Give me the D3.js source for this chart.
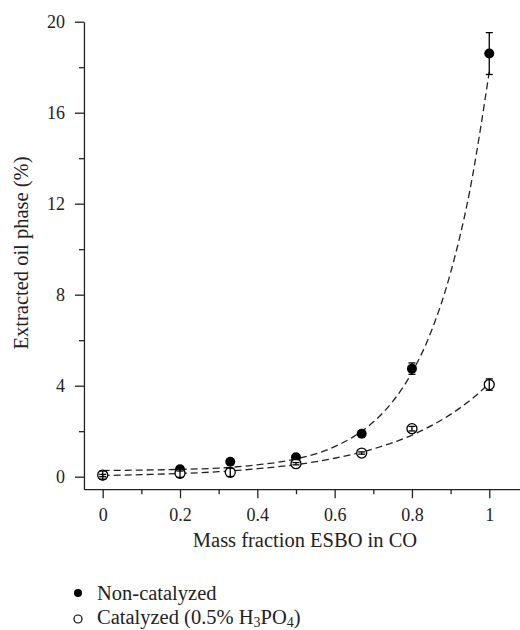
<!DOCTYPE html>
<html>
<head>
<meta charset="utf-8">
<script src="https://cdn.jsdelivr.net/npm/d3@7"></script>
<style>
  html, body { margin: 0; padding: 0; background: #fff; }
  svg { display: block; }
  text { font-family: "Liberation Serif", "DejaVu Serif", serif; fill: #222; }
</style>
</head>
<body>
<svg id="chart" width="520" height="630"></svg>
<script>
// ---- data ----
const massFraction = [0, 0.2, 0.33, 0.5, 0.67, 0.8, 1.0];
const nonCatalyzed = [0.05, 0.33, 0.66, 0.85, 1.89, 4.75, 18.6];
const nonCatalyzedErr = [0.05, 0.08, 0.1, 0.1, 0.1, 0.25, 0.92];
const catalyzed = [0.07, 0.15, 0.19, 0.57, 1.04, 2.11, 4.05];
const catalyzedErr = [0.18, 0.18, 0.18, 0.05, 0.05, 0.1, 0.25];

// dashed fitted curves
const fitNonCatX = [0, 0.1, 0.2, 0.3, 0.4, 0.5, 0.6, 0.65, 0.7, 0.75, 0.8, 0.85, 0.9, 0.95, 1.0];
const fitNonCatY = [0.27, 0.29, 0.32, 0.38, 0.52, 0.78, 1.32, 1.77, 2.40, 3.30, 4.58, 6.39, 8.97, 12.6, 17.8];
const fitCatX = [0, 0.1, 0.2, 0.3, 0.4, 0.5, 0.6, 0.7, 0.8, 0.9, 0.95, 1.0];
const fitCatY = [0.05, 0.09, 0.14, 0.22, 0.35, 0.53, 0.81, 1.22, 1.83, 2.74, 3.35, 4.10];

const xTicks = [0, 0.2, 0.4, 0.6, 0.8, 1];
const xTickLabels = ["0", "0.2", "0.4", "0.6", "0.8", "1"];
const xMinorTicks = [0.1, 0.3, 0.5, 0.7, 0.9];
const yTicks = [0, 4, 8, 12, 16, 20];
const yMinorTicks = [2, 6, 10, 14, 18];

const xTitle = "Mass fraction ESBO in CO";
const yTitle = "Extracted oil phase (%)";
const legendNames = ["Non-catalyzed", "Catalyzed"];

// ---- drawing ----
const svg = d3.select("#chart");
const x = d3.scaleLinear().domain([-0.0485, 1.0803]).range([83.95, 520.3]);
const y = d3.scaleLinear().domain([-0.55, 20]).range([489.2, 21.7]);
const ink = "#222";

// axes
const gx = svg.append("g").attr("transform", `translate(0,${y.range()[0]})`)
  .call(d3.axisBottom(x).tickValues(xTicks).tickFormat((d, i) => xTickLabels[i])
    .tickSizeInner(9).tickSizeOuter(0).tickPadding(10));
const gxm = svg.append("g").attr("transform", `translate(0,${y.range()[0]})`)
  .call(d3.axisBottom(x).tickValues(xMinorTicks).tickFormat("").tickSizeInner(5).tickSizeOuter(0));
gxm.select(".domain").remove();

const gy = svg.append("g").attr("transform", `translate(${x.range()[0]},0)`)
  .call(d3.axisLeft(y).tickValues(yTicks).tickFormat(d3.format("d"))
    .tickSizeInner(9).tickSizeOuter(0).tickPadding(10));
const gym = svg.append("g").attr("transform", `translate(${x.range()[0]},0)`)
  .call(d3.axisLeft(y).tickValues(yMinorTicks).tickFormat("").tickSizeInner(5).tickSizeOuter(0));
gym.select(".domain").remove();

svg.selectAll(".domain, .tick line").attr("stroke", ink).attr("stroke-width", 1.3);
svg.selectAll(".tick text").attr("font-size", 18).attr("fill", ink)
  .style("font-family", '"Liberation Serif", serif');

// titles
svg.append("text").attr("x", 305).attr("y", 547).attr("text-anchor", "middle")
  .attr("font-size", 20.5).text(xTitle);
svg.append("text").attr("transform", "translate(28,253) rotate(-90)")
  .attr("text-anchor", "middle").attr("font-size", 20.5).text(yTitle);

// fitted dashed curves
const line = d3.line().x(d => x(d[0])).y(d => y(d[1])).curve(d3.curveMonotoneX);
[[fitNonCatX, fitNonCatY], [fitCatX, fitCatY]].forEach(([fx, fy]) => {
  svg.append("path").datum(fx.map((v, i) => [v, fy[i]]))
    .attr("d", line).attr("fill", "none").attr("stroke", ink)
    .attr("stroke-width", 1.3).attr("stroke-dasharray", "7,4");
});

// points
const nonData = massFraction.map((m, i) => ({m, v: nonCatalyzed[i], e: nonCatalyzedErr[i]}));
const catData = massFraction.map((m, i) => ({m, v: catalyzed[i], e: catalyzedErr[i]}));

svg.append("g").selectAll("circle").data(nonData).join("circle")
  .attr("cx", d => x(d.m)).attr("cy", d => y(d.v)).attr("r", 5).attr("fill", "#000");
svg.append("g").selectAll("circle").data(catData).join("circle")
  .attr("cx", d => x(d.m)).attr("cy", d => y(d.v)).attr("r", 5)
  .attr("fill", "#fff").attr("stroke", "#000").attr("stroke-width", 1.3);

// error bars
function errorBars(data) {
  const g = svg.append("g").attr("stroke", "#000").attr("stroke-width", 1.3);
  g.selectAll("line.v").data(data).join("line").attr("class", "v")
    .attr("x1", d => x(d.m)).attr("x2", d => x(d.m))
    .attr("y1", d => y(d.v - d.e)).attr("y2", d => y(d.v + d.e));
  ["lo", "hi"].forEach(k => {
    g.selectAll("line." + k).data(data).join("line").attr("class", k)
      .attr("x1", d => x(d.m) - 3.5).attr("x2", d => x(d.m) + 3.5)
      .attr("y1", d => y(k === "lo" ? d.v - d.e : d.v + d.e))
      .attr("y2", d => y(k === "lo" ? d.v - d.e : d.v + d.e));
  });
}
errorBars(nonData);
errorBars(catData);

// legend
const lg = svg.append("g");
lg.append("circle").attr("cx", 78).attr("cy", 593).attr("r", 4).attr("fill", "#000");
lg.append("text").attr("x", 97).attr("y", 600).attr("font-size", 20.5).text(legendNames[0]);
lg.append("circle").attr("cx", 78).attr("cy", 619).attr("r", 4)
  .attr("fill", "#fff").attr("stroke", "#000").attr("stroke-width", 1.2);
const t2 = lg.append("text").attr("x", 97).attr("y", 624).attr("font-size", 20.5);
t2.append("tspan").text(legendNames[1] + " (0.5% H");
t2.append("tspan").attr("font-size", 14).attr("dy", 3).text("3");
t2.append("tspan").attr("dy", -3).text("PO");
t2.append("tspan").attr("font-size", 14).attr("dy", 3).text("4");
t2.append("tspan").attr("dy", -3).text(")");
</script>
</body>
</html>
